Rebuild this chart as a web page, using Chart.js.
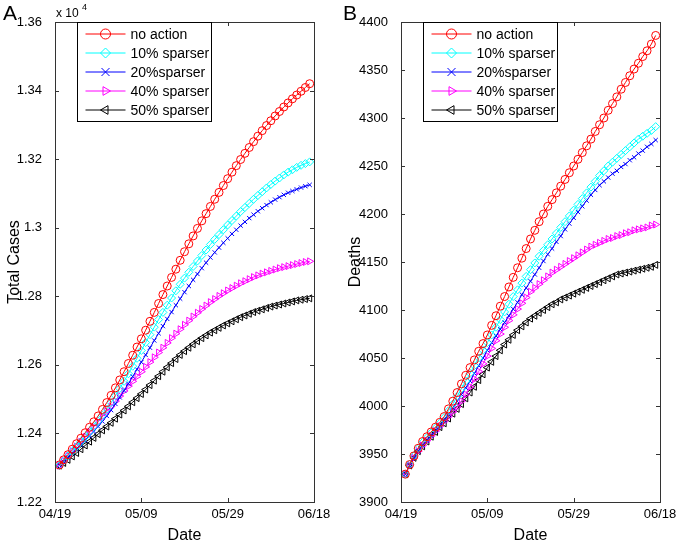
<!DOCTYPE html>
<html>
<head>
<meta charset="utf-8">
<script src="https://cdn.jsdelivr.net/npm/chart.js@4.4.1/dist/chart.umd.min.js"></script>
<style>
    body { margin: 0; background: #fff; }
    canvas { position: absolute; top: 0; }
    #painel-a { left: 0; }
    #painel-b { left: 339px; }
</style>
</head>
<body>
<canvas id="painel-a" width="339" height="541"></canvas>
<canvas id="painel-b" width="339" height="541"></canvas>
<script>
//Eixo x: dias contados a partir de 04/19
const marcasDatas = ['04/19', '05/09', '05/29', '06/18'];
const dias = Array.from({ length: 59 }, (_, i) => i + 1);

const legendas = ['no action', '10% sparser', '20%sparser', '40% sparser', '50% sparser'];
const cores = ['#ff0000', '#00ffff', '#0000ff', '#ff00ff', '#000000'];
const marcadores = ['circle', 'rectRot', 'crossRot', 'triangle', 'triangle'];
const rotacoes = [0, 0, 0, 90, -90];
const raios = [4, 4, 3, 4, 4];

//Painel A - total de casos
const casosSemAcao = [
    12308, 12323, 12338, 12354, 12370, 12386, 12402, 12418, 12434, 12451,
    12470, 12490, 12511, 12533, 12556, 12580, 12604, 12628, 12652, 12676,
    12701, 12727, 12753, 12779, 12805, 12830, 12855, 12879, 12905, 12930,
    12953, 12976, 12998, 13020, 13041, 13062, 13083, 13103, 13123, 13143,
    13162, 13181, 13199, 13217, 13234, 13251, 13267, 13283, 13298, 13312,
    13326, 13339, 13352, 13364, 13376, 13387, 13398, 13409, 13420
];
const casos10 = [
    12306, 12320, 12334, 12348, 12362, 12376, 12390, 12405, 12420, 12436,
    12453, 12471, 12490, 12510, 12531, 12552, 12574, 12596, 12619, 12642,
    12665, 12688, 12710, 12732, 12753, 12774, 12795, 12816, 12835, 12853,
    12870, 12887, 12903, 12919, 12935, 12951, 12966, 12980, 12994, 13008,
    13021, 13034, 13047, 13059, 13071, 13083, 13094, 13105, 13116, 13126,
    13136, 13145, 13154, 13162, 13169, 13176, 13182, 13187, 13192
];
const casos20 = [
    12307, 12318, 12330, 12342, 12355, 12367, 12380, 12393, 12406, 12420,
    12435, 12451, 12468, 12486, 12505, 12525, 12545, 12566, 12587, 12608,
    12629, 12650, 12671, 12692, 12713, 12734, 12754, 12774, 12793, 12812,
    12830, 12848, 12865, 12882, 12898, 12913, 12928, 12942, 12956, 12969,
    12982, 12994, 13006, 13017, 13028, 13038, 13048, 13057, 13066, 13074,
    13082, 13089, 13096, 13102, 13107, 13112, 13117, 13121, 13125
];
const casos40 = [
    12306, 12320, 12334, 12348, 12362, 12376, 12390, 12404, 12419, 12434,
    12449, 12464, 12479, 12494, 12509, 12524, 12538, 12552, 12566, 12580,
    12594, 12608, 12622, 12636, 12650, 12664, 12678, 12691, 12704, 12717,
    12729, 12741, 12752, 12763, 12773, 12783, 12792, 12801, 12809, 12817,
    12824, 12831, 12838, 12844, 12850, 12856, 12861, 12866, 12870, 12874,
    12878, 12882, 12885, 12888, 12891, 12894, 12897, 12900, 12902
];
const casos50 = [
    12306, 12314, 12323, 12333, 12343, 12354, 12365, 12376, 12387, 12398,
    12409, 12420, 12431, 12443, 12455, 12467, 12479, 12491, 12503, 12515,
    12528, 12541, 12554, 12567, 12580, 12593, 12605, 12617, 12629, 12640,
    12650, 12660, 12669, 12678, 12686, 12694, 12701, 12708, 12715, 12721,
    12727, 12733, 12739, 12744, 12749, 12754, 12758, 12762, 12766, 12770,
    12773, 12776, 12779, 12782, 12785, 12788, 12790, 12792, 12794
];

//Painel B - mortes
const mortesSemAcao = [
    3929, 3939, 3948, 3956, 3963, 3968, 3973, 3978, 3983, 3989,
    3997, 4005, 4014, 4023, 4032, 4040, 4048, 4057, 4065, 4074,
    4084, 4094, 4104, 4114, 4124, 4134, 4144, 4154, 4164, 4174,
    4183, 4192, 4200, 4208, 4215, 4222, 4229, 4236, 4243, 4250,
    4257, 4264, 4271, 4278, 4286, 4293, 4300, 4308, 4315, 4322,
    4330, 4337, 4344, 4351, 4357, 4364, 4370, 4377, 4386
];
const mortes10 = [
    3929, 3939, 3948, 3956, 3962, 3967, 3972, 3977, 3982, 3988,
    3995, 4002, 4010, 4018, 4026, 4034, 4042, 4050, 4058, 4066,
    4074, 4082, 4090, 4098, 4106, 4114, 4121, 4128, 4135, 4142,
    4149, 4156, 4162, 4168, 4174, 4180, 4186, 4192, 4198, 4204,
    4210, 4216, 4222, 4228, 4234, 4240, 4245, 4250, 4254, 4258,
    4262, 4266, 4270, 4274, 4278, 4281, 4284, 4287, 4291
];
const mortes20 = [
    3929, 3938, 3946, 3953, 3959, 3964, 3969, 3974, 3979, 3985,
    3991, 3998, 4005, 4012, 4019, 4026, 4034, 4042, 4050, 4058,
    4066, 4073, 4080, 4087, 4094, 4101, 4108, 4116, 4123, 4130,
    4137, 4144, 4151, 4158, 4164, 4171, 4177, 4184, 4190, 4196,
    4202, 4208, 4214, 4220, 4225, 4230, 4234, 4238, 4242, 4245,
    4249, 4252, 4256, 4259, 4263, 4266, 4270, 4273, 4277
];
const mortes40 = [
    3929, 3938, 3946, 3953, 3959, 3964, 3969, 3974, 3979, 3984,
    3989, 3994, 3999, 4005, 4012, 4020, 4028, 4036, 4044, 4052,
    4060, 4068, 4075, 4082, 4089, 4095, 4101, 4107, 4113, 4119,
    4123, 4127, 4131, 4135, 4139, 4142, 4145, 4148, 4151, 4154,
    4157, 4160, 4163, 4166, 4168, 4170, 4172, 4174, 4175, 4177,
    4178, 4180, 4181, 4183, 4184, 4185, 4186, 4188, 4189
];
const mortes50 = [
    3929, 3938, 3946, 3953, 3958, 3963, 3968, 3973, 3978, 3982,
    3987, 3992, 3997, 4002, 4008, 4014, 4020, 4027, 4033, 4040,
    4046, 4052, 4058, 4064, 4069, 4074, 4079, 4083, 4087, 4091,
    4094, 4097, 4100, 4103, 4106, 4108, 4111, 4113, 4115, 4117,
    4119, 4121, 4123, 4125, 4127, 4129, 4131, 4133, 4135, 4137,
    4138, 4139, 4140, 4141, 4142, 4143, 4144, 4145, 4147
];

const fonte = "'Liberation Sans', Arial, sans-serif";

//Desenha um marcador igual ao da serie (usado na legenda)
function desenharMarcador(ctx, estilo, rotacao, x, y, r) {
    ctx.save();
    ctx.translate(x, y);
    ctx.rotate(rotacao * Math.PI / 180);
    ctx.beginPath();
    if (estilo == 'circle') {
        ctx.arc(0, 0, r, 0, 2 * Math.PI);
    } else if (estilo == 'rectRot') {
        ctx.moveTo(0, -r); ctx.lineTo(r, 0); ctx.lineTo(0, r); ctx.lineTo(-r, 0); ctx.closePath();
    } else if (estilo == 'crossRot') {
        ctx.moveTo(-r, -r); ctx.lineTo(r, r); ctx.moveTo(r, -r); ctx.lineTo(-r, r);
    } else if (estilo == 'triangle') {
        ctx.moveTo(0, -r);
        ctx.lineTo(r * 0.866, r * 0.5);
        ctx.lineTo(-r * 0.866, r * 0.5);
        ctx.closePath();
    }
    ctx.stroke();
    ctx.restore();
}

//Caixa estilo MATLAB: moldura, marcas para dentro, legenda e rotulos
const caixaMatlab = {
    id: 'caixaMatlab',
    afterDatasetsDraw(chart, args, opts) {
        const ctx = chart.ctx;
        const area = chart.chartArea;
        const sx = chart.scales.x;
        const sy = chart.scales.y;
        ctx.save();
        ctx.strokeStyle = '#333';
        ctx.lineWidth = 1;
        ctx.beginPath();
        sx.ticks.forEach(function (t) {
            const px = Math.round(sx.getPixelForValue(t.value)) + 0.5;
            ctx.moveTo(px, area.bottom); ctx.lineTo(px, area.bottom - 4);
            ctx.moveTo(px, area.top); ctx.lineTo(px, area.top + 4);
        });
        sy.ticks.forEach(function (t) {
            const py = Math.round(sy.getPixelForValue(t.value)) + 0.5;
            ctx.moveTo(area.left, py); ctx.lineTo(area.left + 4, py);
            ctx.moveTo(area.right, py); ctx.lineTo(area.right - 4, py);
        });
        ctx.stroke();
        ctx.strokeRect(Math.round(area.left) + 0.5, Math.round(area.top) + 0.5,
            Math.round(area.right - area.left), Math.round(area.bottom - area.top));

        //Legenda
        const lx = Math.round(area.left + 22) + 0.5;
        const ly = Math.round(area.top) + 0.5;
        ctx.fillStyle = '#fff';
        ctx.fillRect(lx, ly, 134, 99);
        ctx.strokeStyle = '#000';
        ctx.strokeRect(lx, ly, 134, 99);
        ctx.font = '14px ' + fonte;
        ctx.textBaseline = 'middle';
        chart.data.datasets.forEach(function (ds, i) {
            const y = ly + 11.5 + i * 19;
            ctx.strokeStyle = ds.borderColor;
            ctx.beginPath();
            ctx.moveTo(lx + 8, y); ctx.lineTo(lx + 48, y);
            ctx.stroke();
            ctx.fillStyle = '#fff';
            desenharMarcador(ctx, ds.pointStyle, ds.pointRotation, lx + 28, y, ds.pointRadius + 1);
            ctx.fillStyle = '#000';
            ctx.fillText(ds.label, lx + 53, y + 1);
        });

        //Letra do painel e multiplicador
        ctx.fillStyle = '#000';
        ctx.textBaseline = 'alphabetic';
        ctx.font = '21px ' + fonte;
        ctx.fillText(opts.letra, opts.letraX, 20);
        if (opts.multiplicador) {
            ctx.font = '12px ' + fonte;
            ctx.fillText('x 10', area.left + 1, 17);
            ctx.font = '9px ' + fonte;
            ctx.fillText('4', area.left + 27, 10);
        }
        ctx.restore();
    }
};

function criarGrafico(idCanvas, series, config) {
    const datasets = [];
    for (var i = 0; i < series.length; i++) {
        datasets.push({
            label: legendas[i],
            data: dias.map(function (d, k) { return { x: d, y: series[i][k] }; }),
            borderColor: cores[i],
            borderWidth: 1,
            backgroundColor: 'rgba(0,0,0,0)',
            pointStyle: marcadores[i],
            pointRotation: rotacoes[i],
            pointRadius: raios[i],
            pointBorderColor: cores[i],
            pointBackgroundColor: 'rgba(0,0,0,0)',
            pointBorderWidth: 1,
            tension: 0,
            clip: false
        });
    }

    new Chart(document.getElementById(idCanvas), {
        type: 'line',
        data: { datasets: datasets },
        plugins: [caixaMatlab],
        options: {
            responsive: false,
            animation: false,
            layout: {
                padding: { top: 22, right: config.direita, bottom: 0, left: 0 }
            },
            scales: {
                x: {
                    type: 'linear',
                    min: 0,
                    max: 60,
                    afterBuildTicks: function (eixo) {
                        eixo.ticks = marcasDatas.map(function (m, k) { return { value: k * 20 }; });
                    },
                    afterFit: function (eixo) { eixo.height = 39; },
                    grid: { display: false },
                    border: { display: false },
                    ticks: {
                        padding: -3,
                        maxRotation: 0,
                        color: '#000',
                        font: { size: 13, family: fonte },
                        callback: function (v) { return marcasDatas[Math.round(v / 20)]; }
                    },
                    title: {
                        display: true,
                        text: 'Date',
                        color: '#000',
                        padding: { top: 0, bottom: -3 },
                        font: { size: 16, family: fonte, lineHeight: 1 }
                    }
                },
                y: {
                    min: config.min,
                    max: config.max,
                    afterFit: function (eixo) { eixo.width = config.largura; },
                    grid: { display: false },
                    border: { display: false },
                    ticks: {
                        stepSize: config.passo,
                        padding: 5,
                        color: '#000',
                        font: { size: 13, family: fonte },
                        callback: config.formato
                    },
                    title: {
                        display: true,
                        text: config.titulo,
                        color: '#000',
                        padding: { top: config.tituloPad, bottom: 0 },
                        font: { size: 16, family: fonte, lineHeight: 1 }
                    }
                }
            },
            plugins: {
                legend: { display: false },
                tooltip: { enabled: false },
                caixaMatlab: config.caixa
            }
        }
    });
}

criarGrafico('painel-a', [casosSemAcao, casos10, casos20, casos40, casos50], {
    min: 12200, max: 13600, passo: 200, largura: 55, direita: 25,
    titulo: 'Total Cases', tituloPad: 7,
    formato: function (v) { return String(Number((v / 10000).toFixed(2))); },
    caixa: { letra: 'A', letraX: 3, multiplicador: true }
});

criarGrafico('painel-b', [mortesSemAcao, mortes10, mortes20, mortes40, mortes50], {
    min: 3900, max: 4400, passo: 50, largura: 62, direita: 18,
    titulo: 'Deaths', tituloPad: 9,
    formato: function (v) { return String(v); },
    caixa: { letra: 'B', letraX: 4, multiplicador: false }
});
</script>
</body>
</html>
